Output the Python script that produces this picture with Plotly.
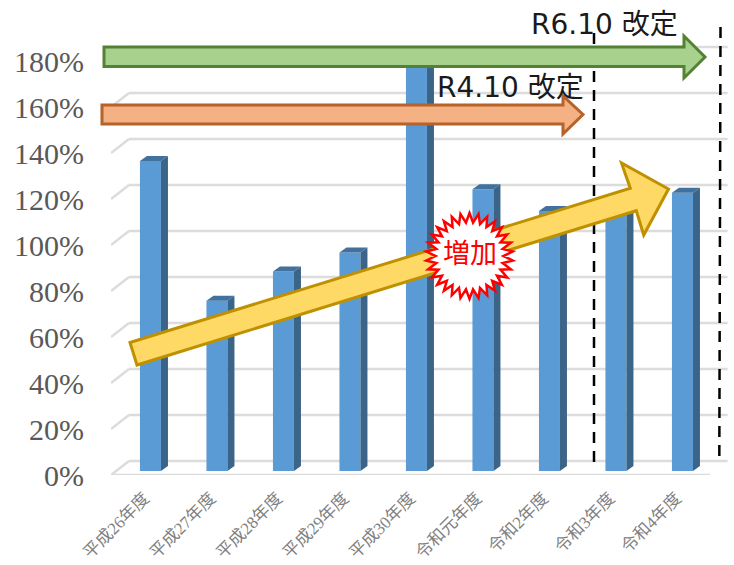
import math
import plotly.graph_objects as go

categories = ["平成26年度", "平成27年度", "平成28年度", "平成29年度", "平成30年度",
              "令和元年度", "令和2年度", "令和3年度", "令和4年度"]
values = [134.8, 74, 86.7, 95, 177, 122.5, 113, 112, 121]
y_ticks = [0, 20, 40, 60, 80, 100, 120, 140, 160, 180]
y_labels = [f"{v}%" for v in y_ticks]

W, H = 734, 565
PX_X = 66.5          # px per category
PX_Y = 2.3           # px per percent
FLOOR_L, FLOOR_Y, BAR_Y = 111, 475, 471
X_R = 733
x_of = lambda px: (px - FLOOR_L) / PX_X - 0.5

fig = go.Figure()
bar_off, bar_w = 6.2 / PX_X, 21 / PX_X
dx, dy = 7 / PX_X, 5 / PX_Y
xs = [i + bar_off for i in range(len(values))]

fig.add_trace(go.Bar(x=xs, y=values, width=bar_w, yaxis="y2", marker=dict(color="#5b9bd5", line=dict(width=0)),
                     showlegend=False, hoverinfo="skip"))
for x, v in zip(xs, values):
    r = x + bar_w / 2
    l = x - bar_w / 2
    fig.add_trace(go.Scatter(x=[r, r + dx, r + dx, r, r], y=[0, dy, v + dy, v, 0], yaxis="y2", mode="lines",
                             fill="toself", fillcolor="#3a6488", line=dict(width=0), showlegend=False, hoverinfo="skip"))
    fig.add_trace(go.Scatter(x=[l, l + dx, r + dx, r, l], y=[v, v + dy, v + dy, v, v], yaxis="y2", mode="lines",
                             fill="toself", fillcolor="#41719c", line=dict(width=0), showlegend=False, hoverinfo="skip"))

shapes = []
grid = dict(color="#dcdcdc", width=2.5)
gx0, gx1, gx2 = -0.5, -0.5 + 18 / PX_X, x_of(727.6)
gdy = 14 / PX_Y
for v in y_ticks:
    shapes.append(dict(type="line", xref="x", yref="y", x0=gx0, x1=gx1, y0=v, y1=v + gdy, line=grid, layer="below"))
    shapes.append(dict(type="line", xref="x", yref="y", x0=gx1, x1=gx2, y0=v + gdy, y1=v + gdy, line=grid, layer="below"))
shapes.append(dict(type="line", xref="x", yref="y", x0=gx0, x1=x_of(710), y0=0, y1=0, line=grid, layer="below"))


def path(points):
    return "M" + " L".join(f"{x / W:.5f},{1 - y / H:.5f}" for x, y in points) + " Z"


def poly(points, fill, line, width=3):
    shapes.append(dict(type="path", xref="paper", yref="paper", path=path(points), fillcolor=fill,
                       line=dict(color=line, width=width), layer="above"))


dash = dict(color="#000000", width=2.5, dash="11px,8px")
shapes.append(dict(type="line", xref="paper", yref="paper", x0=594 / W, x1=594 / W, y0=1 - 33 / H, y1=1 - 465 / H, line=dash))
shapes.append(dict(type="line", xref="paper", yref="paper", x0=720.5 / W, x1=719.3 / W, y0=1 - 27 / H, y1=1 - 463 / H, line=dash))

poly([(104, 47), (684, 47), (684, 36), (705, 57), (684, 78), (684, 66.5), (104, 66.5)], "#a9d18e", "#548235")
poly([(102, 105), (563, 105), (563, 96), (583, 114.5), (563, 134), (563, 124), (102, 124)], "#f4b183", "#b5622b")
poly([(130, 342.5), (630.3, 188.3), (621.5, 163), (668.5, 189), (643.7, 235), (636.3, 210.7), (137, 365)], "#ffd966", "#bf9000")

n = 30
cx, cy = 469.5, 256
star = []
for k in range(2 * n):
    r = 1.0 if k % 2 == 0 else 0.78
    a = math.pi * k / n - math.pi / 2
    star.append((cx + 43.5 * r * math.cos(a), cy + 43 * r * math.sin(a)))
poly(star, "#ffffff", "#ff0000", 2.5)

gothic = "DejaVu Sans, Noto Sans CJK JP"
annotations = [
    dict(xref="paper", yref="paper", x=604.5 / W, y=1 - 24 / H, text="R6.10 改定", showarrow=False, xanchor="center", yanchor="middle",
         font=dict(family=gothic, size=28, color="#1a1a1a")),
    dict(xref="paper", yref="paper", x=510 / W, y=1 - 87 / H, text="R4.10 改定", showarrow=False, xanchor="center", yanchor="middle",
         font=dict(family=gothic, size=28, color="#1a1a1a")),
    dict(xref="paper", yref="paper", x=470 / W, y=1 - 251 / H, text="増加", showarrow=False, xanchor="center", yanchor="middle",
         font=dict(family="Noto Sans CJK JP", size=27, color="#ff0000")),
]

serif = "Liberation Serif, Noto Sans CJK JP"
fig.update_layout(
    width=W, height=H, margin=dict(l=0, r=0, t=0, b=0), autosize=False,
    paper_bgcolor="#ffffff", plot_bgcolor="rgba(0,0,0,0)", shapes=shapes, annotations=annotations, showlegend=False,
    xaxis=dict(domain=[FLOOR_L / W, X_R / W], range=[-0.5, x_of(X_R)], tickmode="array", tickvals=list(range(len(categories))),
               ticktext=categories, tickangle=-45, tickfont=dict(family=serif, size=17, color="#7f7f7f"), ticklabelstandoff=9,
               showgrid=False, zeroline=False, showline=False, ticks="", anchor="y", automargin=False),
    yaxis=dict(domain=[1 - FLOOR_Y / H, 1], range=[0, FLOOR_Y / PX_Y], tickmode="array", tickvals=y_ticks, ticktext=y_labels,
               tickfont=dict(family="Liberation Serif", size=30, color="#595959"), showgrid=False, zeroline=False,
               showline=False, ticks="", anchor="free", position=84 / W, automargin=False),
    yaxis2=dict(domain=[1 - BAR_Y / H, 1], range=[0, BAR_Y / PX_Y], visible=False, anchor="x", automargin=False),
)
fig.write_html("out.html", config=dict(displayModeBar=False),
               post_script="document.body.style.margin='0';document.documentElement.style.overflow='hidden';")
